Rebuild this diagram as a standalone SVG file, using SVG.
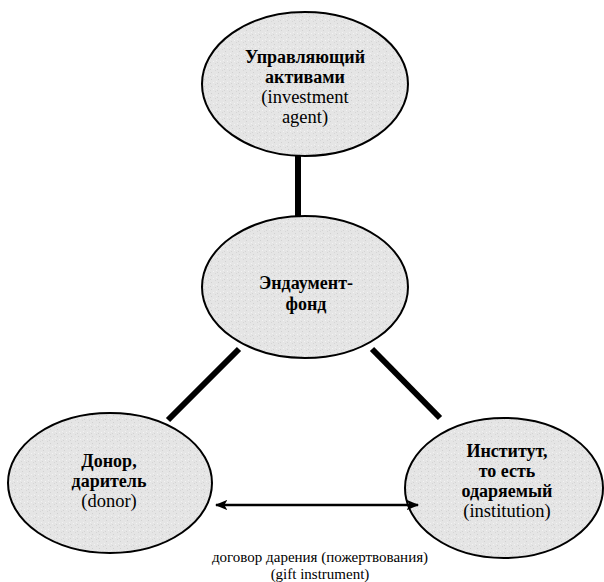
<svg xmlns="http://www.w3.org/2000/svg" width="604" height="582" viewBox="0 0 604 582">
<style>
.node{fill:#e4e4e4;stroke:#000;stroke-width:2}
text{font-family:"Liberation Serif","Times New Roman","DejaVu Serif",serif;text-anchor:middle;fill:#000}
.b{font-weight:bold;font-size:18px}
.r{font-size:18.5px}
.s{font-size:15px}
.thick{stroke:#000;stroke-width:6;fill:none}
.arr{stroke:#000;stroke-width:2.5;fill:none}
</style>
<defs>
<pattern id="tx" width="7" height="7" patternUnits="userSpaceOnUse">
<rect width="7" height="7" fill="#e5e5e5"/>
<rect x="1" y="2" width="1" height="1" fill="#d0d0d0"/>
<rect x="5" y="0" width="1" height="1" fill="#d6d6d6"/>
<rect x="3" y="5" width="1" height="1" fill="#f3f3f3"/>
<rect x="0" y="6" width="1" height="1" fill="#d3d3d3"/>
<rect x="6" y="4" width="1" height="1" fill="#f1f1f1"/>
</pattern>
<marker id="ah" viewBox="0 0 12 10" refX="11" refY="5" markerWidth="5" markerHeight="4.2" orient="auto-start-reverse" markerUnits="strokeWidth">
<path d="M0,0 L12,5 L0,10 L3,5 Z" fill="#000"/>
</marker>
</defs>
<g id="manager">
<ellipse class="node" cx="305" cy="84" rx="103" ry="72" style="fill:url(#tx)"/>
<text class="b" x="305" y="63">Управляющий</text>
<text class="b" x="305" y="83">активами</text>
<text class="r" x="305" y="103">(investment</text>
<text class="r" x="305" y="123">agent)</text>
</g>
<g id="fund">
<ellipse class="node" cx="305" cy="287" rx="103" ry="71" style="fill:url(#tx)"/>
<text class="b" x="306" y="289">Эндаумент-</text>
<text class="b" x="306" y="310">фонд</text>
</g>
<g id="donor">
<ellipse class="node" cx="110" cy="483" rx="102" ry="70" style="fill:url(#tx)"/>
<text class="b" x="109" y="467">Донор,</text>
<text class="b" x="109" y="487">даритель</text>
<text class="r" x="109" y="507">(donor)</text>
</g>
<g id="institution">
<ellipse class="node" cx="504" cy="488" rx="99" ry="70" style="fill:url(#tx)"/>
<text class="b" x="507" y="457">Институт,</text>
<text class="b" x="507" y="477">то есть</text>
<text class="b" x="507" y="497">одаряемый</text>
<text class="r" x="507" y="517">(institution)</text>
</g>
<g id="connectors">
<line class="thick" x1="298" y1="156" x2="298" y2="216"/>
<line class="thick" x1="239" y1="349" x2="168" y2="420"/>
<line class="thick" x1="372" y1="349" x2="440" y2="418"/>
<line class="arr" x1="216" y1="505" x2="418" y2="505" marker-start="url(#ah)" marker-end="url(#ah)"/>
</g>
<g id="label">
<text class="s" x="320" y="562">договор дарения (пожертвования)</text>
<text class="s" x="320" y="579">(gift instrument)</text>
</g>
</svg>
